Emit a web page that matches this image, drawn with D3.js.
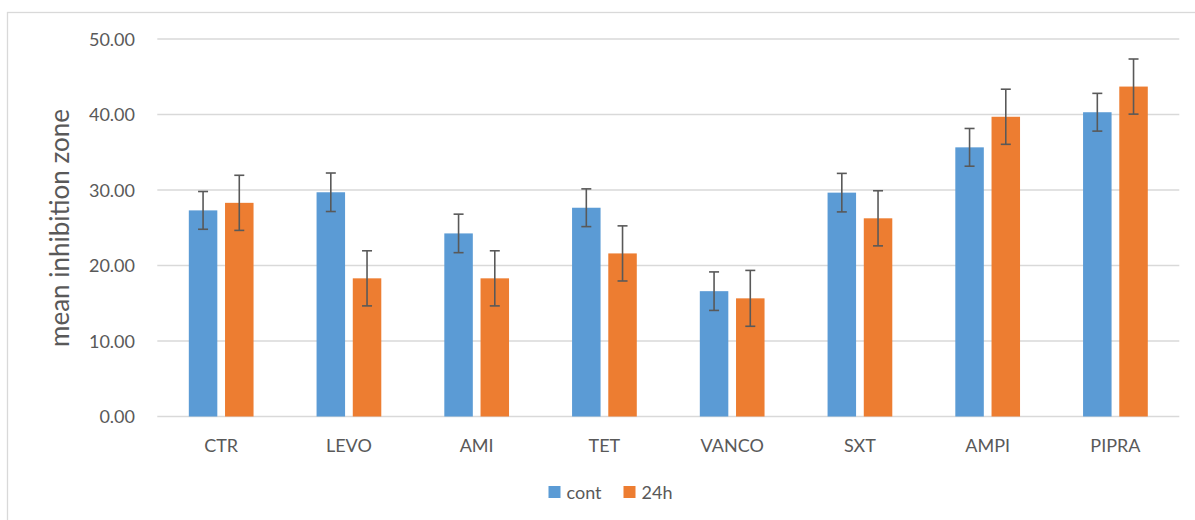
<!DOCTYPE html>
<html>
<head>
<meta charset="utf-8">
<script src="https://cdn.jsdelivr.net/npm/d3@7"></script>
<style>
  body { margin: 0; background: #fff; }
  text { font-family: Lato, "Open Sans", sans-serif; fill: #595959; }
</style>
</head>
<body>
<div id="chart"></div>
<script>
// data
var categories = ["CTR", "LEVO", "AMI", "TET", "VANCO", "SXT", "AMPI", "PIPRA"];
var series     = ["cont", "24h"];
var contValues = [27.3, 29.7, 24.25, 27.65, 16.6, 29.65, 35.65, 40.3];
var contErrors = [2.5, 2.55, 2.55, 2.5, 2.55, 2.55, 2.5, 2.5];
var h24Values  = [28.3, 18.3, 18.3, 21.6, 15.65, 26.25, 39.7, 43.7];
var h24Errors  = [3.65, 3.65, 3.65, 3.65, 3.7, 3.65, 3.65, 3.65];
var yTicks     = [0, 10, 20, 30, 40, 50];

var colors = { "cont": "#5b9bd5", "24h": "#ed7d31" };

// note: "top" is taken by window.top, so plot* names
var width      = 1195,
    height     = 520,
    plotLeft   = 157.3,
    plotRight  = 1179.3,
    plotTop    = 39,
    plotBottom = 416.5;

var svg = d3.select("#chart").append("svg")
    .attr("width", width).attr("height", height);

// chart frame (runs off the right and bottom edges)
svg.append("rect").attr("x", 7.5).attr("y", 12.5)
    .attr("width", 1300).attr("height", 600)
    .attr("fill", "none").attr("stroke", "#d9d9d9").attr("stroke-width", 1.3);

var x = d3.scaleBand().domain(categories).range([plotLeft, plotRight]).padding(0);
var xs = d3.scaleBand().domain(series).range([0, x.bandwidth()])
    .paddingInner(0.213).paddingOuter(0.87);
var y = d3.scaleLinear().domain([0, 50]).range([plotBottom, plotTop]);

// gridlines
svg.append("g").selectAll("line").data(yTicks).enter().append("line")
    .attr("x1", plotLeft).attr("x2", plotRight)
    .attr("y1", function(d) { return y(d); })
    .attr("y2", function(d) { return y(d); })
    .attr("stroke", "#d9d9d9").attr("stroke-width", 1.3);

// y tick labels
svg.append("g").selectAll("text").data(yTicks).enter().append("text")
    .attr("x", 135).attr("y", function(d) { return y(d) + 6.5; })
    .attr("text-anchor", "end").style("font-size", "18px")
    .text(function(d) { return d3.format(".2f")(d); });

// category labels
svg.append("g").selectAll("text").data(categories).enter().append("text")
    .attr("x", function(d) { return x(d) + x.bandwidth() / 2; })
    .attr("y", 452)
    .attr("text-anchor", "middle").style("font-size", "18px")
    .text(function(d) { return d; });

// y title
svg.append("text")
    .attr("transform", "translate(69," + 228 + ") rotate(-90)")
    .attr("text-anchor", "middle").style("font-size", "26px")
    .text("mean inhibition zone");

var rows = [];
categories.forEach(function(c, i) {
    rows.push({ cat: c, s: "cont", v: contValues[i], e: contErrors[i] });
    rows.push({ cat: c, s: "24h",  v: h24Values[i],  e: h24Errors[i] });
});

var bars = svg.append("g").selectAll("g").data(rows).enter().append("g")
    .attr("transform", function(d) { return "translate(" + (x(d.cat) + xs(d.s)) + ",0)"; });

bars.append("rect")
    .attr("x", 0).attr("width", xs.bandwidth())
    .attr("y", function(d) { return y(d.v); })
    .attr("height", function(d) { return y(0) - y(d.v); })
    .attr("fill", function(d) { return colors[d.s]; });

// error bars
var cx = xs.bandwidth() / 2, cap = 5;
bars.append("line")
    .attr("x1", cx).attr("x2", cx)
    .attr("y1", function(d) { return y(d.v + d.e); })
    .attr("y2", function(d) { return y(d.v - d.e); })
    .attr("stroke", "#595959").attr("stroke-width", 1.6);
bars.append("line")
    .attr("x1", cx - cap).attr("x2", cx + cap)
    .attr("y1", function(d) { return y(d.v + d.e); })
    .attr("y2", function(d) { return y(d.v + d.e); })
    .attr("stroke", "#595959").attr("stroke-width", 1.6);
bars.append("line")
    .attr("x1", cx - cap).attr("x2", cx + cap)
    .attr("y1", function(d) { return y(d.v - d.e); })
    .attr("y2", function(d) { return y(d.v - d.e); })
    .attr("stroke", "#595959").attr("stroke-width", 1.6);

// legend
var legendX = [548.5, 623.5];
var legend = svg.append("g").selectAll("g").data(series).enter().append("g")
    .attr("transform", function(d, i) { return "translate(" + legendX[i] + ",486)"; });
legend.append("rect").attr("width", 12).attr("height", 12)
    .attr("fill", function(d) { return colors[d]; });
legend.append("text").attr("x", 18).attr("y", 12.5)
    .style("font-size", "18px")
    .text(function(d) { return d; });
</script>
</body>
</html>
